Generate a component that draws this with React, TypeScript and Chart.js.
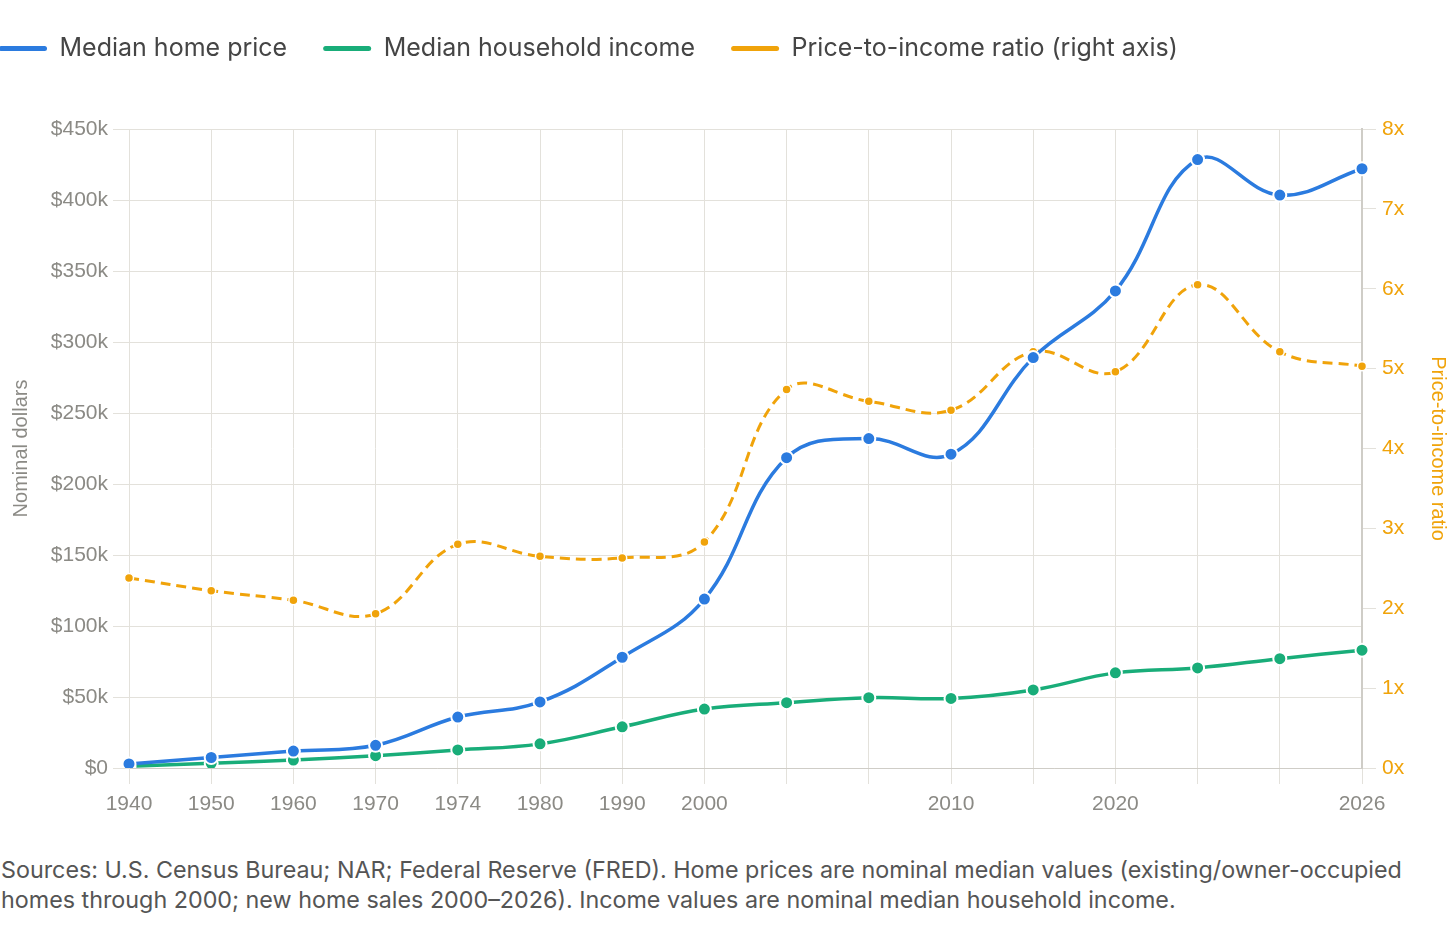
import React, { useEffect, useRef } from 'react';
import Chart from 'chart.js/auto';

const years = ['1940', '1950', '1960', '1970', '1974', '1980', '1990', '2000', '2005', '2007', '2010', '2015', '2020', '2022', '2024', '2026'];
const tickLabels = ['1940', '1950', '1960', '1970', '1974', '1980', '1990', '2000', '', '', '2010', '', '2020', '', '', '2026'];
const homePrice = [2900, 7400, 11900, 16000, 35900, 46500, 78000, 119000, 218500, 232000, 221000, 289000, 336000, 428500, 403500, 422000];
const householdIncome = [1200, 3300, 5600, 8700, 12700, 17000, 29000, 41500, 46000, 49500, 49000, 55000, 67000, 70500, 77000, 83000];
const priceToIncome = [2.38, 2.22, 2.1, 1.93, 2.8, 2.65, 2.63, 2.83, 4.74, 4.59, 4.48, 5.21, 4.96, 6.05, 5.21, 5.03];

const BLUE = '#2b7bdf';
const GREEN = '#19ad79';
const ORANGE = '#f0a30a';
const GRID = '#e3e1db';
const TICK = '#8b8a85';
const UI_FONT = 'Inter, "Open Sans", sans-serif';
const AXIS_FONT = '"Liberation Sans", Arial, sans-serif';

// push the plot down below the legend
const legendGap = {
  id: 'legendGap',
  beforeInit(chart: any) {
    const fit = chart.legend.fit;
    chart.legend.fit = function () {
      fit.bind(chart.legend)();
      this.height += 58;
    };
  },
};

const App: React.FC = () => {
  const canvasRef = useRef<HTMLCanvasElement | null>(null);
  const chartRef = useRef<Chart | null>(null);

  useEffect(() => {
    document.body.style.margin = '0';
    if (!canvasRef.current) return;
    if (chartRef.current) chartRef.current.destroy();

    chartRef.current = new Chart(canvasRef.current, {
      type: 'line',
      plugins: [legendGap],
      data: {
        labels: years,
        datasets: [
          {
            label: 'Median home price',
            data: homePrice,
            borderColor: BLUE,
            backgroundColor: BLUE,
            borderWidth: 3.5,
            pointRadius: 6.5,
            pointBorderColor: '#fff',
            pointBorderWidth: 2,
            tension: 0.4,
            yAxisID: 'y',
          },
          {
            label: 'Median household income',
            data: householdIncome,
            borderColor: GREEN,
            backgroundColor: GREEN,
            borderWidth: 3.5,
            pointRadius: 6.5,
            pointBorderColor: '#fff',
            pointBorderWidth: 2,
            tension: 0.4,
            yAxisID: 'y',
          },
          {
            label: 'Price-to-income ratio (right axis)',
            data: priceToIncome,
            borderColor: ORANGE,
            backgroundColor: ORANGE,
            borderWidth: 3,
            borderDash: [10, 6],
            pointRadius: 4.5,
            pointBorderColor: '#fff',
            pointBorderWidth: 1.5,
            tension: 0.4,
            yAxisID: 'y1',
          },
        ],
      },
      options: {
        animation: false,
        responsive: true,
        maintainAspectRatio: false,
        layout: { padding: { top: 0, left: -37, right: 0, bottom: 0 } },
        plugins: {
          tooltip: { enabled: false },
          legend: {
            position: 'top',
            align: 'start',
            labels: {
              boxWidth: 48,
              boxHeight: 5,
              useBorderRadius: true,
              borderRadius: 2.5,
              padding: 36,
              color: '#454545',
              font: { family: UI_FONT, size: 25 },
              generateLabels: (chart: any) =>
                chart.data.datasets.map((ds: any, i: number) => ({
                  text: ds.label,
                  fillStyle: ds.borderColor,
                  strokeStyle: ds.borderColor,
                  lineWidth: 0,
                  hidden: false,
                  datasetIndex: i,
                  borderRadius: 2.5,
                  fontColor: '#454545',
                })),
            },
          },
        },
        scales: {
          x: {
            grid: { color: GRID, tickLength: 16, tickColor: GRID },
            border: { color: '#cfcdc7' },
            ticks: {
              autoSkip: false,
              maxRotation: 0,
              padding: 8,
              color: TICK,
              font: { family: AXIS_FONT, size: 21 },
              callback: (_v: any, i: number) => tickLabels[i],
            },
            afterFit: (scale: any) => {
              scale.height = 68;
            },
          },
          y: {
            position: 'left',
            min: 0,
            max: 450000,
            grid: { color: GRID, tickLength: 16, tickColor: GRID },
            border: { color: GRID },
            ticks: {
              stepSize: 50000,
              padding: 5,
              color: TICK,
              font: { family: AXIS_FONT, size: 21 },
              callback: (v: any) => (v === 0 ? '$0' : `$${v / 1000}k`),
            },
            title: {
              display: true,
              text: 'Nominal dollars',
              color: TICK,
              font: { family: AXIS_FONT, size: 20 },
              padding: { top: 46, bottom: 0 },
            },
            afterFit: (scale: any) => {
              scale.width = 166;
            },
          },
          y1: {
            position: 'right',
            min: 0,
            max: 8,
            grid: { drawOnChartArea: false, tickLength: 14, tickColor: GRID },
            border: { color: '#cfcdc7', width: 2 },
            ticks: {
              stepSize: 1,
              padding: 6,
              color: ORANGE,
              font: { family: AXIS_FONT, size: 21 },
              callback: (v: any) => `${v}x`,
            },
            title: {
              display: true,
              text: 'Price-to-income ratio',
              color: ORANGE,
              font: { family: AXIS_FONT, size: 20 },
              padding: { top: 6, bottom: 0 },
            },
            afterFit: (scale: any) => {
              scale.width = 94;
            },
          },
        },
      },
    });

    return () => {
      if (chartRef.current) {
        chartRef.current.destroy();
        chartRef.current = null;
      }
    };
  }, []);

  return (
    <div style={{ width: 1456 }}>
      <div style={{ position: 'relative', width: 1456, height: 836 }}>
        <canvas ref={canvasRef} />
      </div>
      <p
        style={{
          margin: '19px 0 0 1px',
          fontFamily: UI_FONT,
          fontSize: 23.3,
          lineHeight: '30px',
          color: '#555',
        }}
      >
        Sources: U.S. Census Bureau; NAR; Federal Reserve (FRED). Home prices are nominal median values (existing/owner-occupied homes through 2000; new home sales 2000–2026). Income values are nominal median household income.
      </p>
    </div>
  );
};

export default App;
